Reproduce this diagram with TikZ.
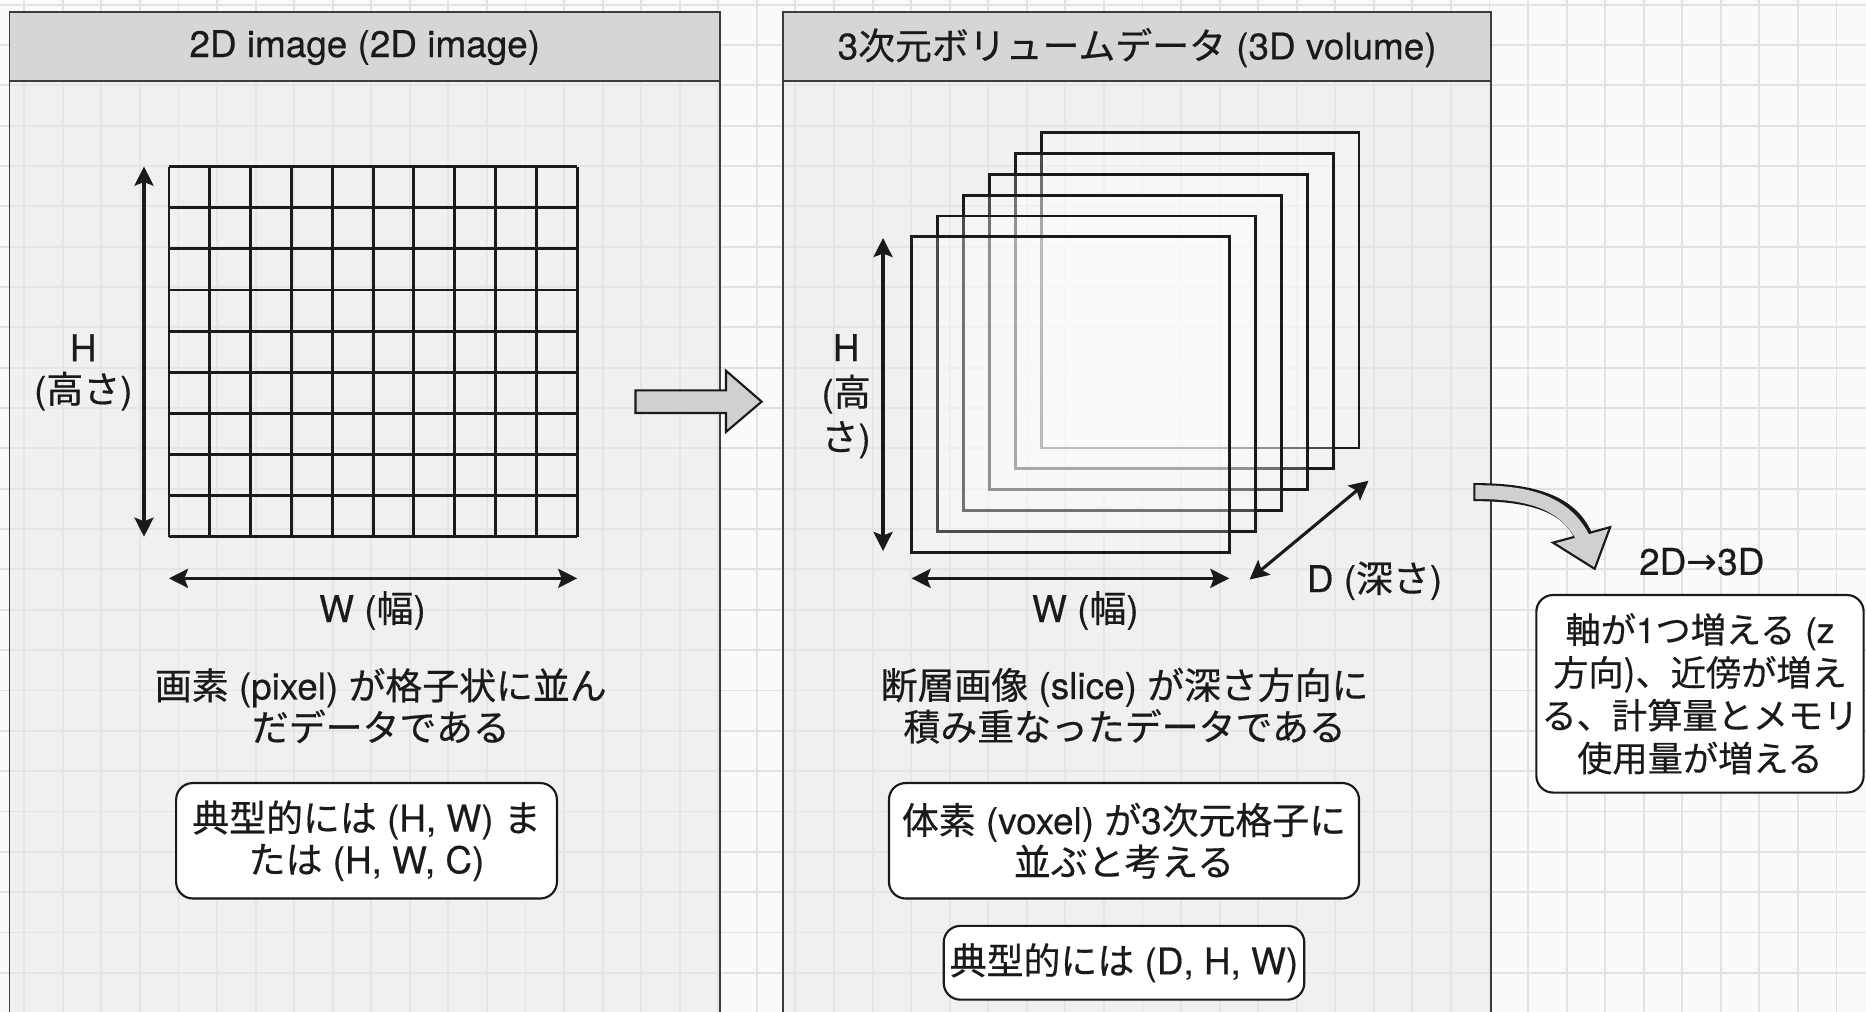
\documentclass[tikz,border=0pt]{standalone}
\usepackage{fontspec}
\setmainfont{TeX Gyre Heros}[FakeBold=0.4]
\newfontfamily\jp{Noto Sans CJK JP}[FakeBold=0.5]
\newfontfamily\symf{DejaVu Sans}
\usetikzlibrary{arrows.meta}
\newcommand\J[1]{{\jp #1}}
\definecolor{bgc}{HTML}{FAFAFA}
\definecolor{gridc}{HTML}{E2E2E2}
\definecolor{panelc}{HTML}{E9E9E9}
\definecolor{headc}{HTML}{D6D6D6}
\definecolor{ink}{HTML}{1A1A1A}
\definecolor{arrowc}{HTML}{D0D0D0}
\tikzset{
  txt/.style={font=\fontsize{15.5pt}{17.5pt}\selectfont, text=ink, align=center, inner sep=0pt},
  bggrid/.style={draw=gridc, line width=0.8pt},
  panel/.style={draw=ink!85, line width=0.8pt, fill=panelc, fill opacity=0.55},
  headbox/.style={draw=ink!85, line width=0.8pt, fill=headc},
  pix/.style={draw=ink, line width=1.2pt},
  slice/.style={draw=ink, line width=1.2pt, fill=white, fill opacity=0.22},
  dim/.style={draw=ink, line width=1.3pt, {Stealth[length=8pt,width=8pt,inset=1.5pt]}-{Stealth[length=8pt,width=8pt,inset=1.5pt]}},
  rbox/.style={txt, draw=ink, line width=0.9pt, fill=white, rounded corners=7pt},
  blockarrow/.style={draw=ink, line width=0.9pt, fill=arrowc, line join=miter},
}
\begin{document}
\begin{tikzpicture}[x=0.5pt,y=-0.5pt]
\useasboundingbox (0,0) rectangle (1568,850);
\clip (0,0) rectangle (1568,850);
% background
\fill[bgc] (0,0) rectangle (1568,850);
\foreach \i in {-40,...,9} \draw[bggrid] ({1284+32.4*\i},0) -- ++(0,850);
\foreach \j in {-1,...,24} \draw[bggrid] (0,{37.8+33.9*\j}) -- ++(1568,0);

% panels
\draw[panel] (8,10) rectangle (605,880);
\draw[headbox] (8,10) rectangle (605,68);
\node[txt] (t1) at (306.5,40) {2D image (2D image)};
\draw[panel] (658,10) rectangle (1253,880);
\draw[headbox] (658,10) rectangle (1253,68);
\node[txt] (t2) at (955.5,40) {3\J{次元ボリュームデータ} (3D volume)};

% 2D pixel grid
\foreach \i in {0,...,10} \draw[pix] ({142+34.3*\i},140) -- ++(0,311);
\foreach \j in {0,...,9} \draw[pix] (142,{140+34.556*\j}) -- ++(343,0);
\coordinate (h1t) at (121,140);
\coordinate (h1b) at (121,451);
\draw[dim] (h1t) -- (h1b);
\node[txt] (hl1) at (70,313) {H\\(\J{高さ})};
\coordinate (w1l) at (142,486);
\coordinate (w1r) at (485,486);
\draw[dim] (w1l) -- (w1r);
\node[txt] (wl1) at (313,513) {W (\J{幅})};
\node[txt] (d1) at (320,593) {\J{画素} (pixel) \J{が格子状に並ん}\\\J{だデータである}};
\node[rbox, minimum width=160pt, minimum height=48.5pt] (b1) at (308,706.5) {\J{典型的には} (H, W) \J{ま}\\\J{たは} (H, W, C)};

% straight block arrow
\draw[blockarrow] (534,328) -- (610,328) -- (610,311.5) -- (640,337.5) -- (610,363) -- (610,347) -- (534,347) -- cycle;

% 3D slice stack
\foreach \i in {5,...,0} \draw[slice] ({766+21.8*\i},{199-17.5*\i}) rectangle ++(267,265);
\coordinate (h2t) at (742,200);
\coordinate (h2b) at (742,463);
\draw[dim] (h2t) -- (h2b);
\node[txt, font=\fontsize{15.5pt}{18.8pt}\selectfont] (hl2) at (711,333) {H\\(\J{高}\\\J{さ})};
\coordinate (w2l) at (766,486);
\coordinate (w2r) at (1033,486);
\draw[dim] (w2l) -- (w2r);
\node[txt] (wl2) at (912,513) {W (\J{幅})};
\coordinate (d2a) at (1050,487);
\coordinate (d2b) at (1150,404);
\draw[dim] (d2a) -- (d2b);
\node[txt] (dl2) at (1155,488) {D (\J{深さ})};
\node[txt] (d2) at (945,593) {\J{断層画像} (slice) \J{が深さ方向に}\\\J{積み重なったデータである}};
\node[rbox, minimum width=197.5pt, minimum height=48.5pt] (b2) at (944.5,706.5) {\J{体素} (voxel) \J{が}3\J{次元格子に}\\\J{並ぶと考える}};
\node[rbox, minimum width=151.5pt, minimum height=31pt] (b3) at (944.5,809) {\J{典型的には} (D, H, W)};

% curved block arrow
\coordinate (ca0) at (1238,413.5);
\coordinate (ca1) at (1333,458);
\draw[draw=ink, line width=7.6pt] (ca0) .. controls (1285,413.5) and (1318,422) .. (1330.5,450.5);
\draw[blockarrow] (1340,478) -- (1305,456) -- (1353,443) -- cycle;
\draw[draw=arrowc, line width=5.8pt, shorten <=0.9pt] (ca0) .. controls (1285,413.5) and (1318,422) .. (ca1);

\node[txt] (t3) at (1430,472) {2D{\symf →}3D};
\node[rbox, font=\fontsize{14.8pt}{18pt}\selectfont, minimum width=137.5pt, minimum height=83pt] (b4) at (1428.5,583) {\J{軸が}1\J{つ増える} (z\\\J{方向)、近傍が増え}\\\J{る、計算量とメモリ}\\\J{使用量が増える}};
\end{tikzpicture}
\end{document}
